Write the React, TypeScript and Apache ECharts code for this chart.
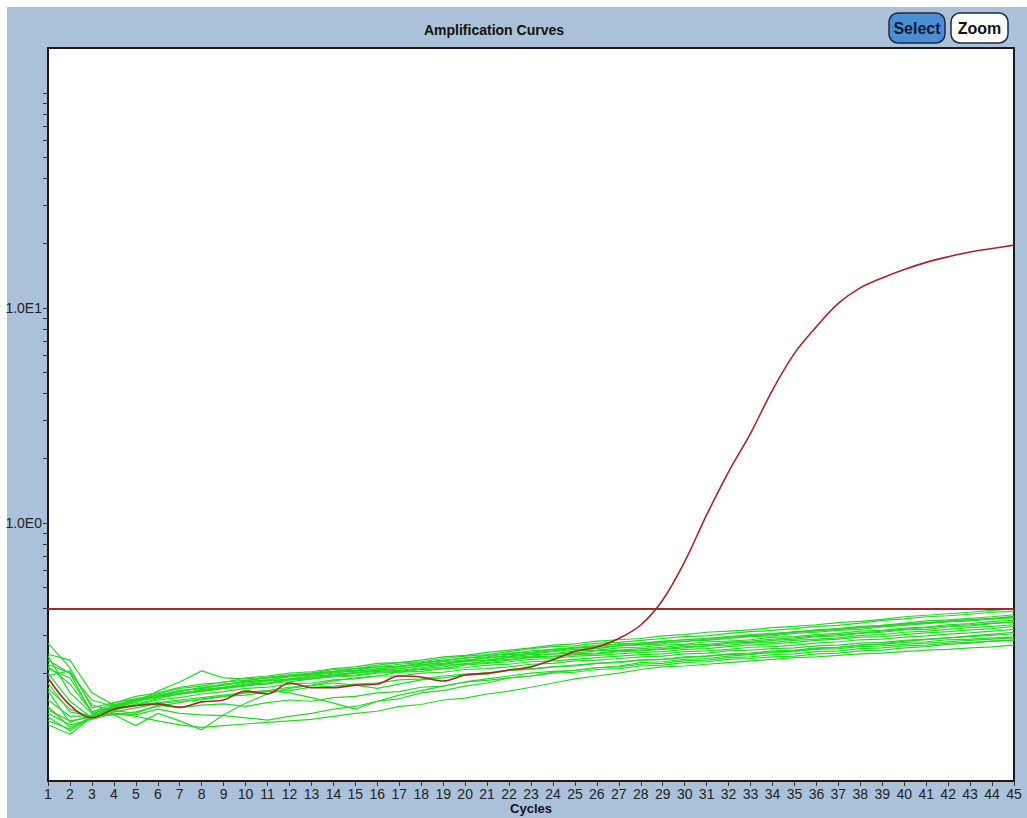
import React, { useEffect, useRef } from "react";
import * as echarts from "echarts";

const CYCLES = [1,2,3,4,5,6,7,8,9,10,11,12,13,14,15,16,17,18,19,20,21,22,23,24,25,26,27,28,29,30,31,32,33,34,35,36,37,38,39,40,41,42,43,44,45];

const Y_TICKS = [0.2,0.3,0.4,0.5,0.6,0.7,0.8,0.9,1,2,3,4,5,6,7,8,9,10,20,30,40,50,60,70,80,90,100];
const Y_LABELS = [1, 10];
const THRESHOLD = 0.4;

const RED_SAMPLE = [0.19,0.142,0.124,0.136,0.141,0.144,0.139,0.147,0.15,0.165,0.16,0.18,0.171,0.171,0.176,0.178,0.194,0.192,0.184,0.196,0.2,0.207,0.214,0.231,0.252,0.265,0.29,0.335,0.438,0.66,1.09,1.73,2.61,4.15,6.15,8.19,10.5,12.4,13.8,15.1,16.3,17.3,18.2,18.9,19.6];

const GREEN_A = [0.215,0.178,0.132,0.145,0.156,0.162,0.172,0.178,0.181,0.19,0.194,0.2,0.203,0.21,0.214,0.222,0.224,0.23,0.238,0.242,0.25,0.256,0.262,0.27,0.274,0.282,0.286,0.29,0.298,0.302,0.31,0.314,0.318,0.326,0.33,0.336,0.344,0.348,0.356,0.366,0.372,0.378,0.384,0.392,0.398];
const GREEN_B = [0.276,0.212,0.138,0.146,0.152,0.16,0.17,0.174,0.182,0.185,0.192,0.196,0.2,0.208,0.21,0.218,0.224,0.226,0.234,0.24,0.244,0.252,0.26,0.266,0.268,0.276,0.278,0.284,0.29,0.296,0.298,0.306,0.312,0.316,0.322,0.33,0.334,0.342,0.352,0.358,0.366,0.37,0.376,0.384,0.388];
const GREEN_C = [0.23,0.2,0.13,0.138,0.146,0.165,0.182,0.205,0.19,0.188,0.19,0.196,0.198,0.204,0.206,0.214,0.216,0.222,0.228,0.236,0.238,0.248,0.25,0.258,0.264,0.266,0.274,0.276,0.282,0.286,0.29,0.294,0.302,0.306,0.31,0.318,0.322,0.33,0.334,0.342,0.35,0.354,0.36,0.366,0.374];
const GREEN_D = [0.2,0.148,0.124,0.142,0.152,0.158,0.166,0.17,0.178,0.182,0.186,0.194,0.196,0.2,0.206,0.208,0.216,0.218,0.226,0.23,0.234,0.244,0.246,0.252,0.258,0.26,0.268,0.27,0.274,0.282,0.284,0.29,0.296,0.298,0.306,0.31,0.316,0.32,0.328,0.334,0.34,0.346,0.35,0.358,0.362];
const GREEN_E = [0.18,0.132,0.126,0.14,0.15,0.156,0.16,0.168,0.172,0.18,0.184,0.188,0.194,0.196,0.202,0.206,0.21,0.216,0.22,0.228,0.23,0.238,0.244,0.246,0.254,0.256,0.262,0.264,0.27,0.272,0.28,0.282,0.286,0.294,0.296,0.302,0.306,0.314,0.316,0.324,0.328,0.336,0.34,0.348,0.352];
const GREEN_F = [0.115,0.104,0.125,0.138,0.148,0.154,0.162,0.166,0.172,0.176,0.184,0.186,0.192,0.194,0.2,0.204,0.206,0.212,0.218,0.22,0.228,0.232,0.238,0.24,0.246,0.248,0.254,0.256,0.26,0.266,0.268,0.276,0.278,0.284,0.288,0.296,0.298,0.306,0.31,0.318,0.32,0.328,0.332,0.34,0.346];
const GREEN_G = [0.195,0.205,0.142,0.134,0.144,0.152,0.16,0.164,0.17,0.176,0.178,0.186,0.188,0.194,0.196,0.202,0.204,0.21,0.214,0.222,0.224,0.23,0.236,0.238,0.244,0.246,0.252,0.254,0.258,0.262,0.268,0.27,0.276,0.278,0.284,0.288,0.292,0.3,0.302,0.31,0.314,0.32,0.326,0.33,0.336];
const GREEN_H = [0.165,0.118,0.128,0.142,0.15,0.158,0.16,0.166,0.17,0.174,0.18,0.182,0.188,0.192,0.194,0.2,0.202,0.208,0.21,0.218,0.222,0.226,0.232,0.234,0.24,0.242,0.246,0.25,0.252,0.258,0.26,0.266,0.27,0.274,0.278,0.284,0.288,0.294,0.296,0.302,0.308,0.312,0.318,0.322,0.33];
const GREEN_I = [0.12,0.11,0.126,0.128,0.114,0.13,0.12,0.109,0.128,0.145,0.16,0.17,0.176,0.184,0.19,0.194,0.202,0.204,0.21,0.212,0.218,0.22,0.226,0.228,0.232,0.236,0.24,0.244,0.246,0.252,0.254,0.258,0.264,0.266,0.27,0.276,0.28,0.286,0.288,0.294,0.298,0.304,0.308,0.314,0.32];
const GREEN_J = [0.135,0.12,0.125,0.13,0.128,0.136,0.13,0.128,0.127,0.124,0.121,0.126,0.13,0.136,0.14,0.148,0.152,0.162,0.166,0.174,0.18,0.19,0.194,0.202,0.206,0.212,0.216,0.224,0.226,0.232,0.234,0.24,0.244,0.25,0.252,0.26,0.264,0.27,0.274,0.282,0.286,0.292,0.298,0.304,0.31];
const GREEN_K = [0.17,0.136,0.125,0.136,0.142,0.15,0.154,0.16,0.164,0.17,0.172,0.178,0.18,0.186,0.188,0.194,0.194,0.2,0.202,0.208,0.21,0.214,0.22,0.222,0.228,0.23,0.234,0.238,0.24,0.246,0.248,0.254,0.256,0.26,0.262,0.268,0.27,0.276,0.278,0.284,0.288,0.292,0.296,0.3,0.305];
const GREEN_L = [0.15,0.126,0.127,0.134,0.13,0.142,0.138,0.142,0.144,0.14,0.146,0.15,0.148,0.154,0.156,0.162,0.164,0.172,0.174,0.182,0.185,0.19,0.194,0.2,0.202,0.208,0.21,0.216,0.218,0.224,0.226,0.232,0.234,0.238,0.24,0.246,0.248,0.254,0.256,0.262,0.266,0.272,0.276,0.282,0.286];
const GREEN_M = [0.13,0.115,0.122,0.13,0.126,0.12,0.115,0.112,0.114,0.116,0.118,0.12,0.122,0.126,0.13,0.133,0.14,0.143,0.15,0.153,0.16,0.165,0.172,0.18,0.188,0.194,0.2,0.208,0.214,0.216,0.22,0.224,0.228,0.232,0.236,0.238,0.242,0.246,0.248,0.252,0.256,0.258,0.262,0.265,0.27];
const GREEN_N = [0.24,0.162,0.13,0.128,0.132,0.14,0.146,0.152,0.156,0.162,0.166,0.172,0.175,0.18,0.176,0.17,0.178,0.186,0.19,0.196,0.198,0.206,0.208,0.214,0.216,0.222,0.224,0.23,0.232,0.238,0.24,0.246,0.248,0.254,0.256,0.262,0.264,0.27,0.272,0.278,0.28,0.286,0.288,0.292,0.294];
const GREEN_O = [0.125,0.108,0.125,0.138,0.142,0.146,0.15,0.154,0.158,0.162,0.166,0.162,0.154,0.145,0.136,0.148,0.158,0.166,0.174,0.182,0.188,0.194,0.2,0.204,0.206,0.212,0.214,0.22,0.222,0.228,0.23,0.236,0.238,0.244,0.246,0.252,0.254,0.26,0.262,0.268,0.27,0.276,0.278,0.282,0.284];
const GREEN_P = [0.21,0.19,0.132,0.14,0.15,0.156,0.166,0.17,0.176,0.182,0.186,0.192,0.196,0.202,0.204,0.21,0.214,0.22,0.222,0.23,0.236,0.24,0.248,0.254,0.262,0.264,0.268,0.272,0.278,0.28,0.288,0.29,0.298,0.302,0.31,0.314,0.322,0.326,0.334,0.338,0.344,0.35,0.354,0.358,0.364];
const GREEN_Q = [0.245,0.23,0.162,0.142,0.15,0.154,0.16,0.166,0.17,0.178,0.18,0.188,0.19,0.198,0.2,0.206,0.21,0.216,0.22,0.226,0.23,0.236,0.24,0.246,0.248,0.254,0.256,0.26,0.264,0.27,0.272,0.278,0.282,0.288,0.292,0.298,0.302,0.308,0.314,0.32,0.326,0.332,0.336,0.342,0.346];
const GREEN_R = [0.22,0.2,0.15,0.14,0.148,0.156,0.164,0.172,0.176,0.184,0.19,0.194,0.2,0.204,0.21,0.214,0.22,0.224,0.23,0.234,0.242,0.246,0.254,0.258,0.262,0.27,0.272,0.276,0.28,0.286,0.29,0.296,0.3,0.304,0.312,0.316,0.32,0.326,0.33,0.338,0.342,0.348,0.354,0.36,0.368];
const GREEN_S = [0.14,0.112,0.124,0.132,0.138,0.144,0.148,0.15,0.156,0.158,0.164,0.166,0.172,0.174,0.178,0.18,0.186,0.188,0.194,0.198,0.2,0.206,0.21,0.214,0.218,0.222,0.226,0.23,0.232,0.236,0.24,0.244,0.246,0.25,0.254,0.258,0.26,0.266,0.268,0.272,0.276,0.28,0.284,0.288,0.292];

const GREEN_WELLS = [GREEN_A, GREEN_B, GREEN_C, GREEN_D, GREEN_E, GREEN_F, GREEN_G, GREEN_H, GREEN_I, GREEN_J, GREEN_K, GREEN_L, GREEN_M, GREEN_N, GREEN_O, GREEN_P, GREEN_Q, GREEN_R, GREEN_S];

const BG = "#aac1d9";
const FONT = "'Liberation Sans', Arial, sans-serif";

export default function App() {
  const ref = useRef<HTMLDivElement>(null);
  useEffect(() => {
    if (!ref.current) return;
    const chart = echarts.init(ref.current, undefined, { renderer: "svg" });
    const pairs = (vals: number[]) => vals.map((v, i) => [CYCLES[i], v]);
    const greenSeries = GREEN_WELLS.map((w, i) => ({
      type: "line",
      name: "well" + i,
      data: pairs(w),
      symbol: "none",
      silent: true,
      lineStyle: { color: "#26d826", width: 1.2 },
      z: 2,
    }));
    chart.setOption({
      animation: false,
      backgroundColor: "transparent",
      grid: {
        left: 48,
        top: 48,
        right: 13,
        bottom: 37,
        outerBoundsMode: "none",
        containLabel: false,
        show: true,
        backgroundColor: "#ffffff",
        borderColor: "#1a1a1a",
        borderWidth: 2,
      },
      xAxis: {
        type: "value",
        min: 1,
        max: 45,
        interval: 1,
        name: "Cycles",
        nameLocation: "middle",
        nameGap: 20,
        nameMoveOverlap: false,
        nameTextStyle: { fontFamily: FONT, fontWeight: "bold", fontSize: 13, color: "#111", verticalAlign: "top", lineHeight: 14 },
        axisLine: { show: true, lineStyle: { color: "#1a1a1a", width: 2 } },
        axisTick: { show: true, length: 5, lineStyle: { color: "#333", width: 1 } },
        axisLabel: { fontFamily: FONT, fontSize: 14, color: "#222", margin: 6 },
        splitLine: { show: false },
      },
      yAxis: {
        type: "log",
        logBase: 10,
        min: 0.063,
        max: 162,
        axisLine: { show: true, lineStyle: { color: "#1a1a1a", width: 2 } },
        axisTick: { show: true, length: 5, customValues: Y_TICKS, lineStyle: { color: "#333", width: 1 } },
        axisLabel: {
          fontFamily: FONT,
          fontSize: 14,
          color: "#222",
          margin: 6,
          customValues: Y_LABELS,
          formatter: (v: number) => (v >= 5 ? "1.0E1" : "1.0E0"),
        },
        splitLine: { show: false },
        minorTick: { show: false },
      },
      series: [
        ...greenSeries,
        {
          type: "line",
          name: "sample",
          data: pairs(RED_SAMPLE),
          symbol: "none",
          smooth: 0.35,
          lineStyle: { color: "#a3262b", width: 1.6 },
          z: 3,
          markLine: {
            silent: true,
            symbol: "none",
            label: { show: false },
            lineStyle: { color: "#9e2a2e", width: 2, type: "solid" },
            data: [{ yAxis: THRESHOLD }],
          },
        },
      ],
      graphic: [
        {
          type: "text",
          x: 494,
          y: 30,
          style: {
            text: "Amplification Curves",
            font: "bold 14px 'Liberation Sans', Arial, sans-serif",
            fill: "#111",
            align: "center",
            verticalAlign: "middle",
          },
        },
        {
          type: "rect",
          shape: { x: 889, y: 13, width: 56, height: 30, r: 9 },
          style: { fill: "#4a8fd6", stroke: "#1f2a3a", lineWidth: 1.5 },
        },
        {
          type: "text",
          x: 917,
          y: 28,
          style: {
            text: "Select",
            font: "bold 16px 'Liberation Sans', Arial, sans-serif",
            fill: "#0d1a33",
            align: "center",
            verticalAlign: "middle",
          },
        },
        {
          type: "rect",
          shape: { x: 951, y: 13, width: 57, height: 30, r: 9 },
          style: { fill: "#ffffff", stroke: "#1f2a3a", lineWidth: 1.5 },
        },
        {
          type: "text",
          x: 979.5,
          y: 28,
          style: {
            text: "Zoom",
            font: "bold 16px 'Liberation Sans', Arial, sans-serif",
            fill: "#111",
            align: "center",
            verticalAlign: "middle",
          },
        },
      ],
    });
    return () => chart.dispose();
  }, []);
  return (
    <div style={{ position: "fixed", left: 0, top: 0, width: 1027, height: 818, background: "#ffffff" }}>
      <div style={{ position: "absolute", left: 7, top: 7, width: 1020, height: 811, background: BG }} />
      <div ref={ref} style={{ position: "absolute", left: 0, top: 0, width: 1027, height: 818 }} />
    </div>
  );
}
